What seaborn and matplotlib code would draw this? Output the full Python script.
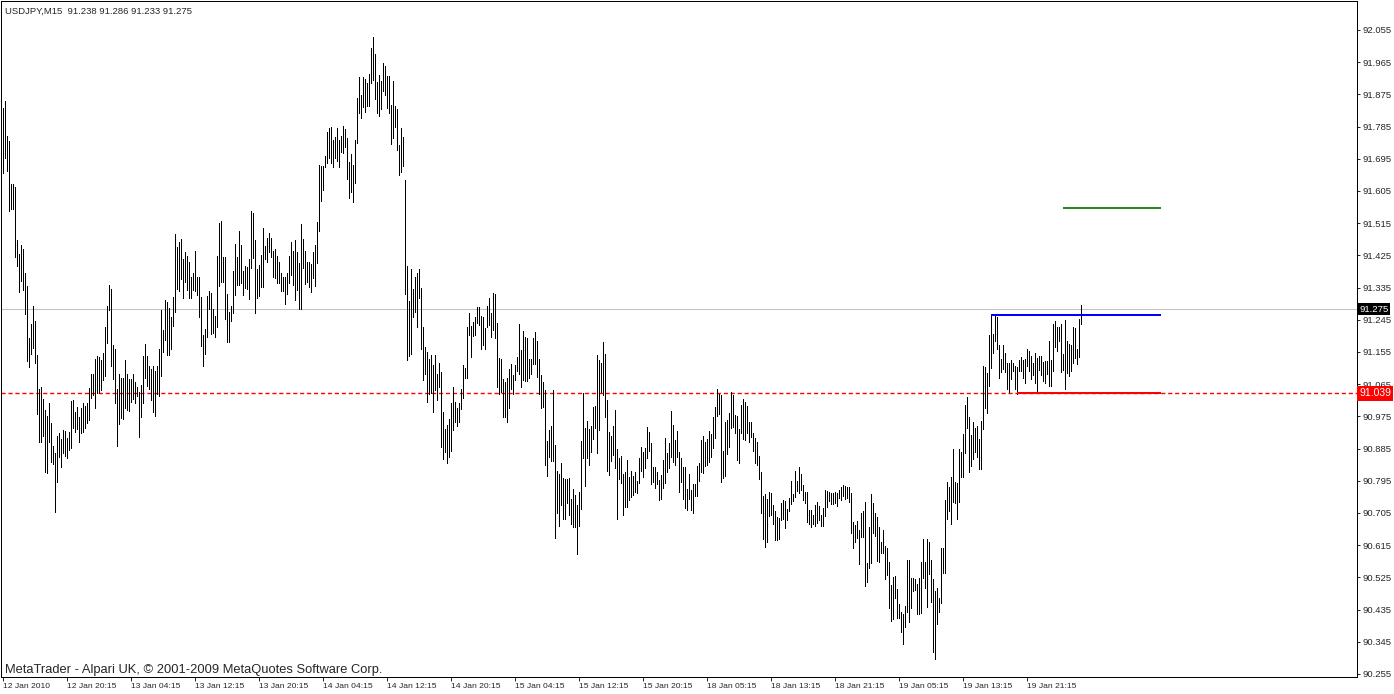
import numpy as np
import pandas as pd
import matplotlib
matplotlib.use('Agg')
import matplotlib.pyplot as plt
import matplotlib.transforms as mtransforms
from matplotlib import font_manager
import seaborn as sns

# USDJPY M15 bars (high / low per bar)
symbol = 'USDJPY,M15'
last_ohlc = [91.238, 91.286, 91.233, 91.275]

highs = [
    91.837, 91.856, 91.758, 91.745, 91.625, 91.625, 91.616, 91.468, 91.429, 91.454,
    91.443, 91.376, 91.339, 91.194, 91.233, 91.283, 91.242, 91.147, 91.052, 91.057,
    91.024, 90.993, 90.976, 91.013, 90.957, 90.892, 90.873, 90.920, 90.929, 90.912,
    90.937, 90.934, 90.915, 90.932, 91.018, 91.021, 90.987, 91.001, 90.973, 90.999,
    91.013, 91.004, 91.013, 91.055, 91.094, 91.094, 91.136, 91.144, 91.141, 91.133,
    91.153, 91.225, 91.283, 91.342, 91.331, 91.175, 91.164, 91.052, 91.094, 91.083,
    91.083, 91.133, 91.094, 91.080, 91.080, 91.094, 91.071, 91.057, 91.043, 91.063,
    91.144, 91.178, 91.144, 91.116, 91.108, 91.116, 91.102, 91.116, 91.164, 91.272,
    91.217, 91.300, 91.294, 91.278, 91.253, 91.309, 91.485, 91.449, 91.462, 91.471,
    91.415, 91.434, 91.423, 91.406, 91.364, 91.376, 91.437, 91.364, 91.364, 91.309,
    91.203, 91.220, 91.311, 91.325, 91.320, 91.275, 91.256, 91.423, 91.516, 91.521,
    91.420, 91.420, 91.317, 91.267, 91.283, 91.381, 91.457, 91.420, 91.493, 91.454,
    91.381, 91.395, 91.392, 91.415, 91.549, 91.543, 91.468, 91.387, 91.398, 91.426,
    91.502, 91.451, 91.473, 91.487, 91.473, 91.437, 91.443, 91.423, 91.406, 91.376,
    91.364, 91.364, 91.376, 91.423, 91.462, 91.437, 91.468, 91.434, 91.404, 91.513,
    91.471, 91.437, 91.406, 91.406, 91.401, 91.434, 91.454, 91.518, 91.678, 91.675,
    91.675, 91.703, 91.770, 91.781, 91.784, 91.748, 91.756, 91.781, 91.748, 91.758,
    91.786, 91.778, 91.753, 91.686, 91.709, 91.678, 91.748, 91.865, 91.924, 91.873,
    91.924, 91.918, 91.907, 91.932, 92.005, 92.035, 91.988, 91.910, 91.929, 91.912,
    91.963, 91.954, 91.926, 91.926, 91.845, 91.912, 91.843, 91.834, 91.734, 91.781,
    91.756, 91.636, 91.395, 91.297, 91.387, 91.331, 91.364, 91.376, 91.387, 91.334,
    91.225, 91.169, 91.155, 91.136, 91.147, 91.119, 91.147, 91.094, 91.124, 91.099,
    90.987, 90.940, 90.951, 90.968, 91.013, 91.057, 91.015, 90.999, 91.013, 91.052,
    91.119, 91.111, 91.225, 91.264, 91.228, 91.239, 91.253, 91.281, 91.281, 91.256,
    91.253, 91.222, 91.283, 91.306, 91.264, 91.320, 91.317, 91.236, 91.138, 91.136,
    91.080, 91.071, 91.083, 91.108, 91.122, 91.091, 91.119, 91.141, 91.233, 91.161,
    91.214, 91.197, 91.194, 91.136, 91.136, 91.194, 91.211, 91.186, 91.136, 91.091,
    91.071, 91.049, 90.906, 90.937, 90.948, 91.049, 90.895, 90.822, 90.814, 90.845,
    90.803, 90.800, 90.800, 90.803, 90.745, 90.772, 90.756, 90.728, 90.764, 90.906,
    91.041, 90.943, 90.962, 90.940, 90.948, 91.001, 91.004, 91.147, 91.133, 91.124,
    91.183, 91.150, 91.021, 90.932, 90.920, 90.948, 90.993, 90.884, 90.859, 90.864,
    90.814, 90.820, 90.853, 90.806, 90.822, 90.808, 90.820, 90.795, 90.859, 90.890,
    90.876, 90.887, 90.946, 90.932, 90.901, 90.834, 90.834, 90.820, 90.797, 90.811,
    90.853, 90.915, 90.873, 90.901, 90.990, 90.951, 90.909, 90.934, 90.876, 90.859,
    90.834, 90.834, 90.772, 90.814, 90.770, 90.786, 90.786, 90.836, 90.845, 90.909,
    90.920, 90.904, 90.912, 90.934, 90.926, 90.973, 91.001, 91.052, 91.038, 91.035,
    90.879, 90.959, 90.965, 90.985, 91.043, 91.035, 90.979, 90.976, 90.940, 91.007,
    91.024, 91.015, 91.004, 90.959, 90.959, 90.929, 90.915, 90.904, 90.864, 90.820,
    90.753, 90.759, 90.745, 90.764, 90.761, 90.728, 90.711, 90.694, 90.691, 90.733,
    90.742, 90.739, 90.717, 90.748, 90.795, 90.759, 90.822, 90.795, 90.834, 90.814,
    90.784, 90.764, 90.764, 90.714, 90.714, 90.700, 90.728, 90.736, 90.725, 90.700,
    90.719, 90.770, 90.767, 90.764, 90.761, 90.761, 90.764, 90.761, 90.770, 90.778,
    90.784, 90.781, 90.778, 90.778, 90.761, 90.680, 90.672, 90.683, 90.658, 90.706,
    90.711, 90.736, 90.566, 90.666, 90.759, 90.733, 90.706, 90.694, 90.666, 90.624,
    90.658, 90.613, 90.608, 90.569, 90.504, 90.527, 90.529, 90.493, 90.451, 90.429,
    90.423, 90.445, 90.574, 90.574, 90.524, 90.524, 90.521, 90.507, 90.524, 90.569,
    90.633, 90.569, 90.633, 90.625, 90.574, 90.521, 90.487, 90.496, 90.468, 90.608,
    90.608, 90.742, 90.792, 90.778, 90.806, 90.884, 90.792, 90.789, 90.884, 90.876,
    90.926, 91.007, 91.029, 90.973, 90.923, 90.959, 90.943, 90.948, 90.912, 90.962,
    91.116, 91.113, 91.097, 91.203, 91.256, 91.206, 91.256, 91.253, 91.175, 91.136,
    91.175, 91.153, 91.124, 91.124, 91.133, 91.124, 91.116, 91.113, 91.133, 91.141,
    91.133, 91.136, 91.164, 91.158, 91.144, 91.124, 91.153, 91.138, 91.144, 91.144,
    91.127, 91.130, 91.130, 91.186, 91.133, 91.233, 91.242, 91.225, 91.225, 91.233,
    91.150, 91.245, 91.186, 91.178, 91.175, 91.225, 91.222, 91.164, 91.247, 91.286,
]

lows = [
    91.656, 91.698, 91.661, 91.549, 91.555, 91.555, 91.420, 91.395, 91.322, 91.353,
    91.328, 91.261, 91.130, 91.113, 91.150, 91.166, 91.124, 90.982, 90.904, 90.904,
    90.920, 90.819, 90.817, 90.904, 90.848, 90.842, 90.708, 90.792, 90.862, 90.834,
    90.873, 90.865, 90.859, 90.881, 90.887, 90.943, 90.932, 90.940, 90.904, 90.929,
    90.932, 90.943, 90.957, 90.965, 91.027, 91.035, 90.999, 91.041, 91.041, 91.049,
    91.077, 91.088, 91.180, 91.272, 91.116, 91.080, 91.013, 90.892, 90.954, 90.971,
    90.968, 90.999, 90.993, 90.990, 91.015, 91.024, 91.013, 91.032, 90.918, 90.973,
    91.013, 91.083, 91.060, 91.052, 91.021, 90.987, 90.976, 91.038, 91.032, 91.088,
    91.155, 91.189, 91.147, 91.147, 91.164, 91.228, 91.267, 91.331, 91.325, 91.359,
    91.306, 91.350, 91.328, 91.306, 91.306, 91.328, 91.325, 91.314, 91.253, 91.172,
    91.116, 91.150, 91.197, 91.275, 91.206, 91.208, 91.197, 91.225, 91.339, 91.350,
    91.350, 91.247, 91.183, 91.183, 91.242, 91.264, 91.314, 91.342, 91.342, 91.348,
    91.314, 91.334, 91.331, 91.303, 91.390, 91.418, 91.264, 91.306, 91.311, 91.337,
    91.337, 91.415, 91.406, 91.434, 91.420, 91.364, 91.362, 91.348, 91.348, 91.325,
    91.325, 91.289, 91.317, 91.348, 91.370, 91.342, 91.300, 91.328, 91.275, 91.275,
    91.390, 91.345, 91.350, 91.337, 91.322, 91.362, 91.339, 91.404, 91.493, 91.577,
    91.608, 91.672, 91.683, 91.698, 91.683, 91.672, 91.698, 91.689, 91.672, 91.714,
    91.711, 91.728, 91.639, 91.586, 91.602, 91.574, 91.628, 91.739, 91.823, 91.809,
    91.840, 91.826, 91.843, 91.843, 91.907, 91.915, 91.862, 91.823, 91.815, 91.834,
    91.884, 91.873, 91.837, 91.823, 91.736, 91.753, 91.784, 91.720, 91.650, 91.658,
    91.675, 91.317, 91.133, 91.144, 91.150, 91.253, 91.267, 91.225, 91.306, 91.164,
    91.077, 91.094, 91.015, 91.038, 91.041, 90.987, 91.049, 91.021, 91.057, 90.890,
    90.856, 90.876, 90.845, 90.862, 90.879, 90.937, 90.959, 90.949, 90.959, 90.996,
    91.027, 91.083, 91.083, 91.203, 91.141, 91.200, 91.203, 91.236, 91.231, 91.164,
    91.175, 91.164, 91.225, 91.231, 91.197, 91.217, 91.194, 91.057, 91.038, 91.043,
    90.973, 90.973, 90.959, 90.999, 91.052, 91.038, 91.077, 91.102, 91.094, 91.057,
    91.077, 91.074, 91.074, 91.083, 91.094, 91.122, 91.122, 91.085, 91.038, 90.999,
    91.001, 90.839, 90.808, 90.862, 90.850, 90.850, 90.636, 90.705, 90.669, 90.728,
    90.689, 90.689, 90.733, 90.700, 90.675, 90.666, 90.666, 90.591, 90.669, 90.717,
    90.859, 90.781, 90.859, 90.839, 90.876, 90.912, 90.943, 90.873, 90.937, 91.043,
    91.035, 90.973, 90.822, 90.811, 90.850, 90.867, 90.831, 90.689, 90.800, 90.789,
    90.700, 90.722, 90.722, 90.742, 90.750, 90.756, 90.764, 90.761, 90.789, 90.822,
    90.806, 90.831, 90.859, 90.879, 90.786, 90.792, 90.775, 90.786, 90.742, 90.745,
    90.775, 90.789, 90.819, 90.831, 90.862, 90.848, 90.839, 90.862, 90.764, 90.792,
    90.745, 90.720, 90.714, 90.745, 90.714, 90.705, 90.753, 90.753, 90.795, 90.819,
    90.817, 90.836, 90.839, 90.848, 90.862, 90.887, 90.915, 90.976, 90.982, 90.792,
    90.803, 90.808, 90.870, 90.890, 90.943, 90.946, 90.929, 90.853, 90.845, 90.929,
    90.912, 90.909, 90.929, 90.904, 90.918, 90.879, 90.845, 90.839, 90.800, 90.705,
    90.633, 90.610, 90.624, 90.697, 90.700, 90.675, 90.630, 90.630, 90.633, 90.686,
    90.689, 90.664, 90.686, 90.711, 90.731, 90.739, 90.750, 90.767, 90.761, 90.770,
    90.742, 90.733, 90.680, 90.675, 90.666, 90.675, 90.669, 90.678, 90.686, 90.669,
    90.669, 90.697, 90.722, 90.739, 90.731, 90.731, 90.733, 90.725, 90.748, 90.742,
    90.753, 90.745, 90.748, 90.736, 90.650, 90.608, 90.624, 90.636, 90.563, 90.639,
    90.639, 90.501, 90.512, 90.552, 90.566, 90.650, 90.641, 90.571, 90.569, 90.594,
    90.594, 90.521, 90.532, 90.440, 90.403, 90.409, 90.468, 90.412, 90.412, 90.373,
    90.339, 90.387, 90.429, 90.401, 90.440, 90.487, 90.490, 90.423, 90.423, 90.426,
    90.524, 90.496, 90.443, 90.535, 90.457, 90.317, 90.297, 90.395, 90.429, 90.454,
    90.538, 90.538, 90.689, 90.711, 90.675, 90.736, 90.733, 90.689, 90.736, 90.806,
    90.806, 90.873, 90.943, 90.820, 90.836, 90.856, 90.876, 90.862, 90.828, 90.828,
    90.940, 90.999, 90.985, 91.060, 91.111, 91.153, 91.186, 91.164, 91.083, 91.099,
    91.108, 91.099, 91.052, 91.043, 91.080, 91.102, 91.052, 91.038, 91.102, 91.102,
    91.083, 91.068, 91.116, 91.102, 91.080, 91.091, 91.068, 91.043, 91.105, 91.091,
    91.074, 91.068, 91.094, 91.060, 91.060, 91.102, 91.169, 91.158, 91.186, 91.099,
    91.105, 91.052, 91.097, 91.088, 91.102, 91.124, 91.138, 91.122, 91.141, 91.233,
]

time_labels = [
    '12 Jan 2010', '12 Jan 20:15', '13 Jan 04:15', '13 Jan 12:15', '13 Jan 20:15',
    '14 Jan 04:15', '14 Jan 12:15', '14 Jan 20:15', '15 Jan 04:15', '15 Jan 12:15',
    '15 Jan 20:15', '18 Jan 05:15', '18 Jan 13:15', '18 Jan 21:15', '19 Jan 05:15',
    '19 Jan 13:15', '19 Jan 21:15',
]
label_every = 32  # bars between time labels

price_ticks = [92.055, 91.965, 91.875, 91.785, 91.695, 91.605, 91.515, 91.425,
               91.335, 91.245, 91.155, 91.065, 90.975, 90.885, 90.795, 90.705,
               90.615, 90.525, 90.435, 90.345, 90.255]

bid_price = 91.275
alert_price = 91.039

# drawn levels: price, first bar, colour
level_prices = [91.257, 91.039, 91.558]
level_start = [494, 507, 530]
level_colors = ['#0000ff', '#ff0000', '#228b22']
level_end = 579

assert len(highs) == len(lows)
n = len(highs)
bars = pd.DataFrame({
    'bar': np.repeat(np.arange(n), 2),
    'price': np.column_stack([lows, highs]).ravel(),
})

sns.set_style('white')
plt.rcParams['font.family'] = ['Liberation Sans', 'DejaVu Sans']
installed = {f.name for f in font_manager.fontManager.ttflist}
narrow = 'Liberation Sans Narrow' if 'Liberation Sans Narrow' in installed else 'Liberation Sans'
px = 0.72  # one pixel in points at dpi 100

W, H = 1394, 694
fig = plt.figure(figsize=(W / 100, H / 100), dpi=100)
ax = fig.add_axes([1 / W, 17 / H, 1356 / W, 676 / H])

sns.lineplot(data=bars, x='bar', y='price', units='bar', estimator=None,
             color='black', lw=px, antialiased=False, sort=False,
             legend=False, ax=ax, zorder=3)

ax.axhline(bid_price, color='#c0c0c0', lw=px, antialiased=False, zorder=1)
# dotted alert line across the whole chart
ax.hlines(alert_price, -1, 677, colors='#ff0000', lw=1.0, linestyles=(0, (3, 2)),
          zorder=2)
for p, s, c in zip(level_prices, level_start, level_colors):
    ax.hlines(p, s, level_end, color=c, lw=2 * px, antialiased=False, zorder=4)

ax.set_xlim(-1, 677)
ax.set_ylim(90.2466, 92.136)

ax.yaxis.tick_right()
ax.set_yticks(price_ticks)
ax.set_yticklabels([f'{p:.3f}' for p in price_ticks])
ax.set_xticks(range(0, label_every * len(time_labels), label_every))
ax.set_xticklabels(time_labels, ha='left', family=narrow)
ax.tick_params(axis='y', direction='out', length=2.5, width=px, pad=1.5,
               labelsize=6.8, right=True, left=False)
ax.tick_params(axis='x', direction='out', length=3, width=px, pad=1,
               labelsize=6.1, bottom=True)
ax.set_xlabel('')
ax.set_ylabel('')
for sp in ax.spines.values():
    sp.set_color('black')
    sp.set_linewidth(px)

# price tags on the right scale
tag = mtransforms.blended_transform_factory(ax.transAxes, ax.transData)
ax.text(1.0016, bid_price, f'{bid_price:.3f}', transform=tag, ha='left', va='center',
        fontsize=6.8, color='white', clip_on=False, zorder=10,
        bbox=dict(boxstyle='square,pad=0.2', fc='black', ec='none'))
ax.text(1.0016, alert_price, f'{alert_price:.3f}', transform=tag, ha='left', va='center',
        fontsize=7.5, color='white', clip_on=False, zorder=10,
        bbox=dict(boxstyle='square,pad=0.2', fc='#ff0000', ec='none'))

header = symbol + '  ' + ' '.join(f'{v:.3f}' for v in last_ohlc)
fig.text(5 / W, 1 - 11 / H, header, fontsize=6.8, va='center', ha='left')
fig.text(5 / W, 1 - 670 / H, 'MetaTrader - Alpari UK, \u00a9 2001-2009 MetaQuotes Software Corp.',
         fontsize=9.3, va='center', ha='left')

fig.savefig('out.png', dpi=100, facecolor='white')
